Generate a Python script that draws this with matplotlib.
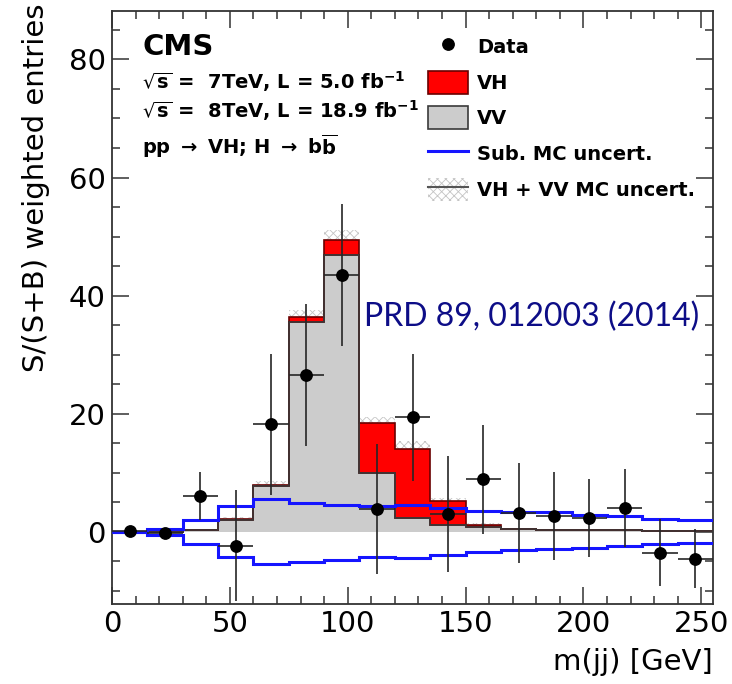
import numpy as np
import matplotlib
matplotlib.use("Agg")
import matplotlib.pyplot as plt
from matplotlib.patches import Patch
from matplotlib.lines import Line2D
from matplotlib.ticker import MultipleLocator

# ---- binned m(jj) distribution, 15 GeV bins from 0 to 255 GeV ----
bin_edges = [0, 15, 30, 45, 60, 75, 90, 105, 120, 135, 150, 165,
             180, 195, 210, 225, 240, 255]

data_vals = [0.1, -0.2, 6.1, -2.3, 18.2, 26.6, 43.5, 3.9, 19.4, 3.0, 8.9,
             3.2, 2.7, 2.4, 4.1, -3.5, -4.5]
data_errs = [0.3, 0.3, 4.0, 9.4, 12.0, 12.0, 12.0, 11.0, 10.7, 9.8, 9.2,
             8.5, 7.5, 6.6, 6.6, 5.7, 5.0]

vv_vals = [0.0, 0.05, 0.3, 2.1, 7.8, 35.6, 46.9, 9.9, 2.4, 1.2, 0.8,
           0.45, 0.35, 0.3, 0.25, 0.2, 0.15]
vh_vals = [0.0, 0.0, 0.0, 0.05, 0.2, 0.8, 2.5, 8.6, 11.7, 4.0, 0.45,
           0.05, 0.0, 0.0, 0.0, 0.0, 0.0]
mc_unc = [0.0, 0.05, 0.1, 0.3, 0.7, 1.2, 1.7, 1.0, 1.3, 0.6, 0.3,
          0.1, 0.1, 0.1, 0.1, 0.1, 0.1]

sub_up = [0.0, 0.45, 2.0, 4.35, 5.5, 4.9, 4.6, 4.4, 4.5, 4.1, 3.55,
          3.3, 3.3, 2.8, 2.7, 2.25, 2.0]
sub_down = [0.0, -0.6, -2.0, -4.2, -5.5, -5.1, -4.8, -4.2, -4.4, -3.9, -3.4,
            -3.1, -2.9, -2.65, -2.4, -2.0, -1.9]

x_ticks = [0, 50, 100, 150, 200, 250]
y_ticks = [0, 20, 40, 60, 80]

edges = np.array(bin_edges, dtype=float)
centers = 0.5 * (edges[:-1] + edges[1:])
widths = np.diff(edges)
vv = np.array(vv_vals)
vh = np.array(vh_vals)
total = vv + vh
unc = np.array(mc_unc)

plt.rcParams["font.family"] = ["DejaVu Sans"]
plt.rcParams["mathtext.fontset"] = "dejavusans"
plt.rcParams["mathtext.default"] = "bf"
plt.rcParams["hatch.linewidth"] = 0.6

W, H = 732, 684
fig = plt.figure(figsize=(W / 100, H / 100), dpi=100)
ax = fig.add_axes([112 / W, 1 - 604 / H, (713 - 112) / W, (604 - 11) / H])

unc_color = "#c4c4c4"
# MC statistical band on the signal + diboson stack
ax.bar(centers, 2 * unc, bottom=total - unc, width=widths, facecolor="none",
       edgecolor=unc_color, hatch="xxxx", linewidth=0, zorder=1)

# stacked VV + VH
ax.stairs(vv, edges, baseline=0, fill=True, color="#cccccc", zorder=2)
ax.stairs(total, edges, baseline=vv, fill=True, color="#ff0000", zorder=2)
ax.stairs(total, edges, baseline=vv, color="#6a0000", linewidth=1.2, zorder=3)
ax.stairs(vv, edges, baseline=0, color="#3a3a3a", linewidth=1.2, zorder=3)

# subtracted-background MC uncertainty envelope
ax.stairs(sub_up, edges, baseline=None, color="#1515ff", linewidth=2.2, zorder=4)
ax.stairs(sub_down, edges, baseline=None, color="#1515ff", linewidth=2.2, zorder=4)

# data
ax.errorbar(centers, data_vals, yerr=data_errs, xerr=widths / 2, fmt="o",
            color="black", ecolor="#262626", elinewidth=1.2, markersize=8.2,
            capsize=0, zorder=5)

ax.set_xlim(0, 255)
ax.set_ylim(-12.2, 88.2)
ax.set_xticks(x_ticks)
ax.set_yticks(y_ticks)
ax.xaxis.set_minor_locator(MultipleLocator(10))
ax.yaxis.set_minor_locator(MultipleLocator(5))
ax.tick_params(which="both", direction="in", top=True, right=True,
               color="#333333", width=1.1, labelsize=21)
ax.tick_params(which="major", length=12.5)
ax.tick_params(which="minor", length=6)
ax.tick_params(axis="x", pad=4)
ax.tick_params(axis="y", pad=4.5)
for s in ax.spines.values():
    s.set_linewidth(1.3)
    s.set_color("#333333")

fig.text(713 / W, 1 - 670 / H, "m(jj) [GeV]", ha="right", va="baseline",
         fontsize=21)
fig.text(36 / W, 1 - 4 / H, "S/(S+B) weighted entries", ha="center",
         va="top", rotation=90, fontsize=21)

# experiment label block
fig.text(142 / W, 1 - 55 / H, "CMS", fontsize=21, fontweight="bold",
         va="baseline")
fig.text(142 / W, 1 - 89 / H, r"$\sqrt{s}$ =  7TeV, L = 5.0 fb$^{-1}$",
         fontsize=14, fontweight="bold", va="baseline")
fig.text(142 / W, 1 - 118 / H, r"$\sqrt{s}$ =  8TeV, L = 18.9 fb$^{-1}$",
         fontsize=14, fontweight="bold", va="baseline")
fig.text(142 / W, 1 - 154 / H,
         r"pp $\rightarrow$ VH; H $\rightarrow$ b$\overline{b}$",
         fontsize=14, fontweight="bold", va="baseline")

handles = [
    Line2D([], [], marker="o", color="black", linestyle="none", markersize=8.2),
    Patch(facecolor="#ff0000", edgecolor="#6a0000", linewidth=1.2),
    Patch(facecolor="#cccccc", edgecolor="#3a3a3a", linewidth=1.2),
    Line2D([], [], color="#1515ff", linewidth=2.2),
    (Patch(facecolor="none", edgecolor=unc_color, hatch="xxxx", linewidth=0),
     Line2D([], [], color="#555555", linewidth=1.5)),
]
labels = ["Data", "VH", "VV", "Sub. MC uncert.", "VH + VV MC uncert."]
fs = 14
px_per_em = fs * 100 / 72
leg = ax.legend(handles, labels, loc="upper left",
                bbox_to_anchor=(428 / W, 1 - 35 / H),
                bbox_transform=fig.transFigure, frameon=False, borderpad=0,
                borderaxespad=0, handlelength=40 / px_per_em,
                handleheight=28 / px_per_em,
                labelspacing=12.7 / px_per_em,
                handletextpad=9 / px_per_em,
                prop={"size": fs, "weight": "bold"})

ax.text(699 / W, 1 - 326 / H, "PRD 89, 012003 (2014)", transform=fig.transFigure,
        ha="right", va="baseline", fontsize=23, family=["Lato", "DejaVu Sans"],
        color="#0d0d87", zorder=6)

fig.savefig("out.png", dpi=100)
